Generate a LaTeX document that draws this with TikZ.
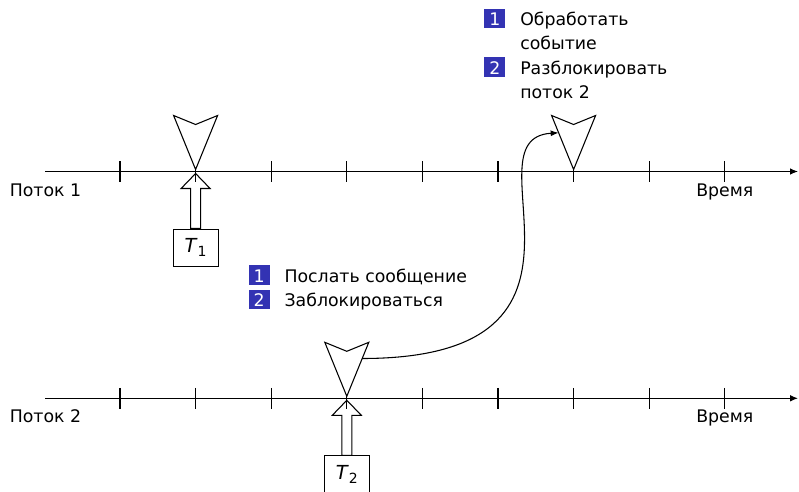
\documentclass[tikz,border=0pt]{standalone}
\usepackage{fontspec}
\setmainfont{DejaVu Sans}
\usetikzlibrary{arrows.meta,calc}

\definecolor{itemblue}{RGB}{51,51,179}

% numbered square in front of a list item
\newcommand{\itemsq}[1]{%
  {\color{itemblue}\rule[-1.9pt]{15.75pt}{14.6pt}}%
  \hspace{-15.75pt}\makebox[15.75pt]{\color{white}#1}}

% task label T with an index
\newcommand{\tasklabel}[1]{{\fontsize{14.5}{16}\selectfont\textit{T}}\raisebox{-3.4pt}{\fontsize{10.5}{12}\selectfont #1}}

\begin{document}
\begin{tikzpicture}[x=0.75pt, y=-0.75pt,
  font=\fontsize{13}{18.3}\selectfont,
  every node/.style={inner sep=0pt},
  timeline/.style={line width=0.9pt, -{Latex[length=6pt,width=5pt]}},
  tickmark/.style={line width=0.8pt},
  dart/.style={draw, line width=0.8pt, line join=miter, fill=white},
  blockarrow/.style={draw, line width=0.8pt, line join=miter},
  taskbox/.style={draw, line width=0.8pt, minimum width=33.75pt, minimum height=27.75pt},
  lanelabel/.style={anchor=base},
  msg/.style={line width=0.8pt, -{Latex[length=6pt,width=4.5pt]}},
  dartpic/.pic={
    \draw[dart] (-22,-56) coordinate (-tl) -- (0,-47) -- (22,-56) coordinate (-tr)
      -- (0,-2) coordinate (-tip) -- cycle;
  },
  uparrow/.pic={
    \draw[blockarrow] (0,2) -- (14.5,17) -- (5,17) -- (5,57) -- (-5,57)
      -- (-5,17) -- (-14.5,17) -- cycle;
  }
]
\useasboundingbox (0,0) rectangle (799,492);

% two threads on a common time axis
\foreach \ly/\n in {171.5/1, 398.3/2} {
  \coordinate (start\n) at (45,\ly);
  \coordinate (end\n) at (798,\ly);
  \draw[timeline] (start\n) -- (end\n);
  \foreach \k in {0,...,8}
    \draw[tickmark] (120+75.6*\k, \ly-10.5) -- ++(0,21);
  \node[lanelabel] (thread\n) at (45.5, \ly+24.5) {Поток \n};
  \node[lanelabel] (time\n) at (724.8, \ly+24.5) {Время};
}

% events on the threads
\pic (d1) at (195.6,171.5) {dartpic};
\pic (d2) at (346.8,398.3) {dartpic};
\pic (d3) at (573.6,171.5) {dartpic};

% incoming tasks
\pic (u1) at (195.6,171.5) {uparrow};
\node[taskbox, anchor=north] (task1) at (195.6,228.5) {\tasklabel{1}};
\pic (u2) at (346.8,398.3) {uparrow};
\node[taskbox, anchor=north] (task2) at (346.8,455.3) {\tasklabel{2}};

% message from thread 2 to thread 1
\coordinate (msgout) at ($(d2-tr)!0.3!(d2-tip)$);
\coordinate (msgin) at ($(d3-tl)!0.32!(d3-tip)$);
\draw[msg] (msgout) .. controls +(270,0) and +(-97,6) .. (msgin);

% step lists
\node[anchor=base west] (steps2) at (248.3,282.3) {%
  \begin{tabular}[t]{@{}l@{\hspace{11.25pt}}l@{}}
  \itemsq{1} & Послать сообщение\\
  \itemsq{2} & Заблокироваться
  \end{tabular}};
\node[anchor=base west] (steps1) at (484,25.5) {%
  \begin{tabular}[t]{@{}l@{\hspace{11.25pt}}l@{}}
  \itemsq{1} & Обработать\\
             & событие\\
  \itemsq{2} & Разблокировать\\
             & поток 2
  \end{tabular}};
\end{tikzpicture}
\end{document}
